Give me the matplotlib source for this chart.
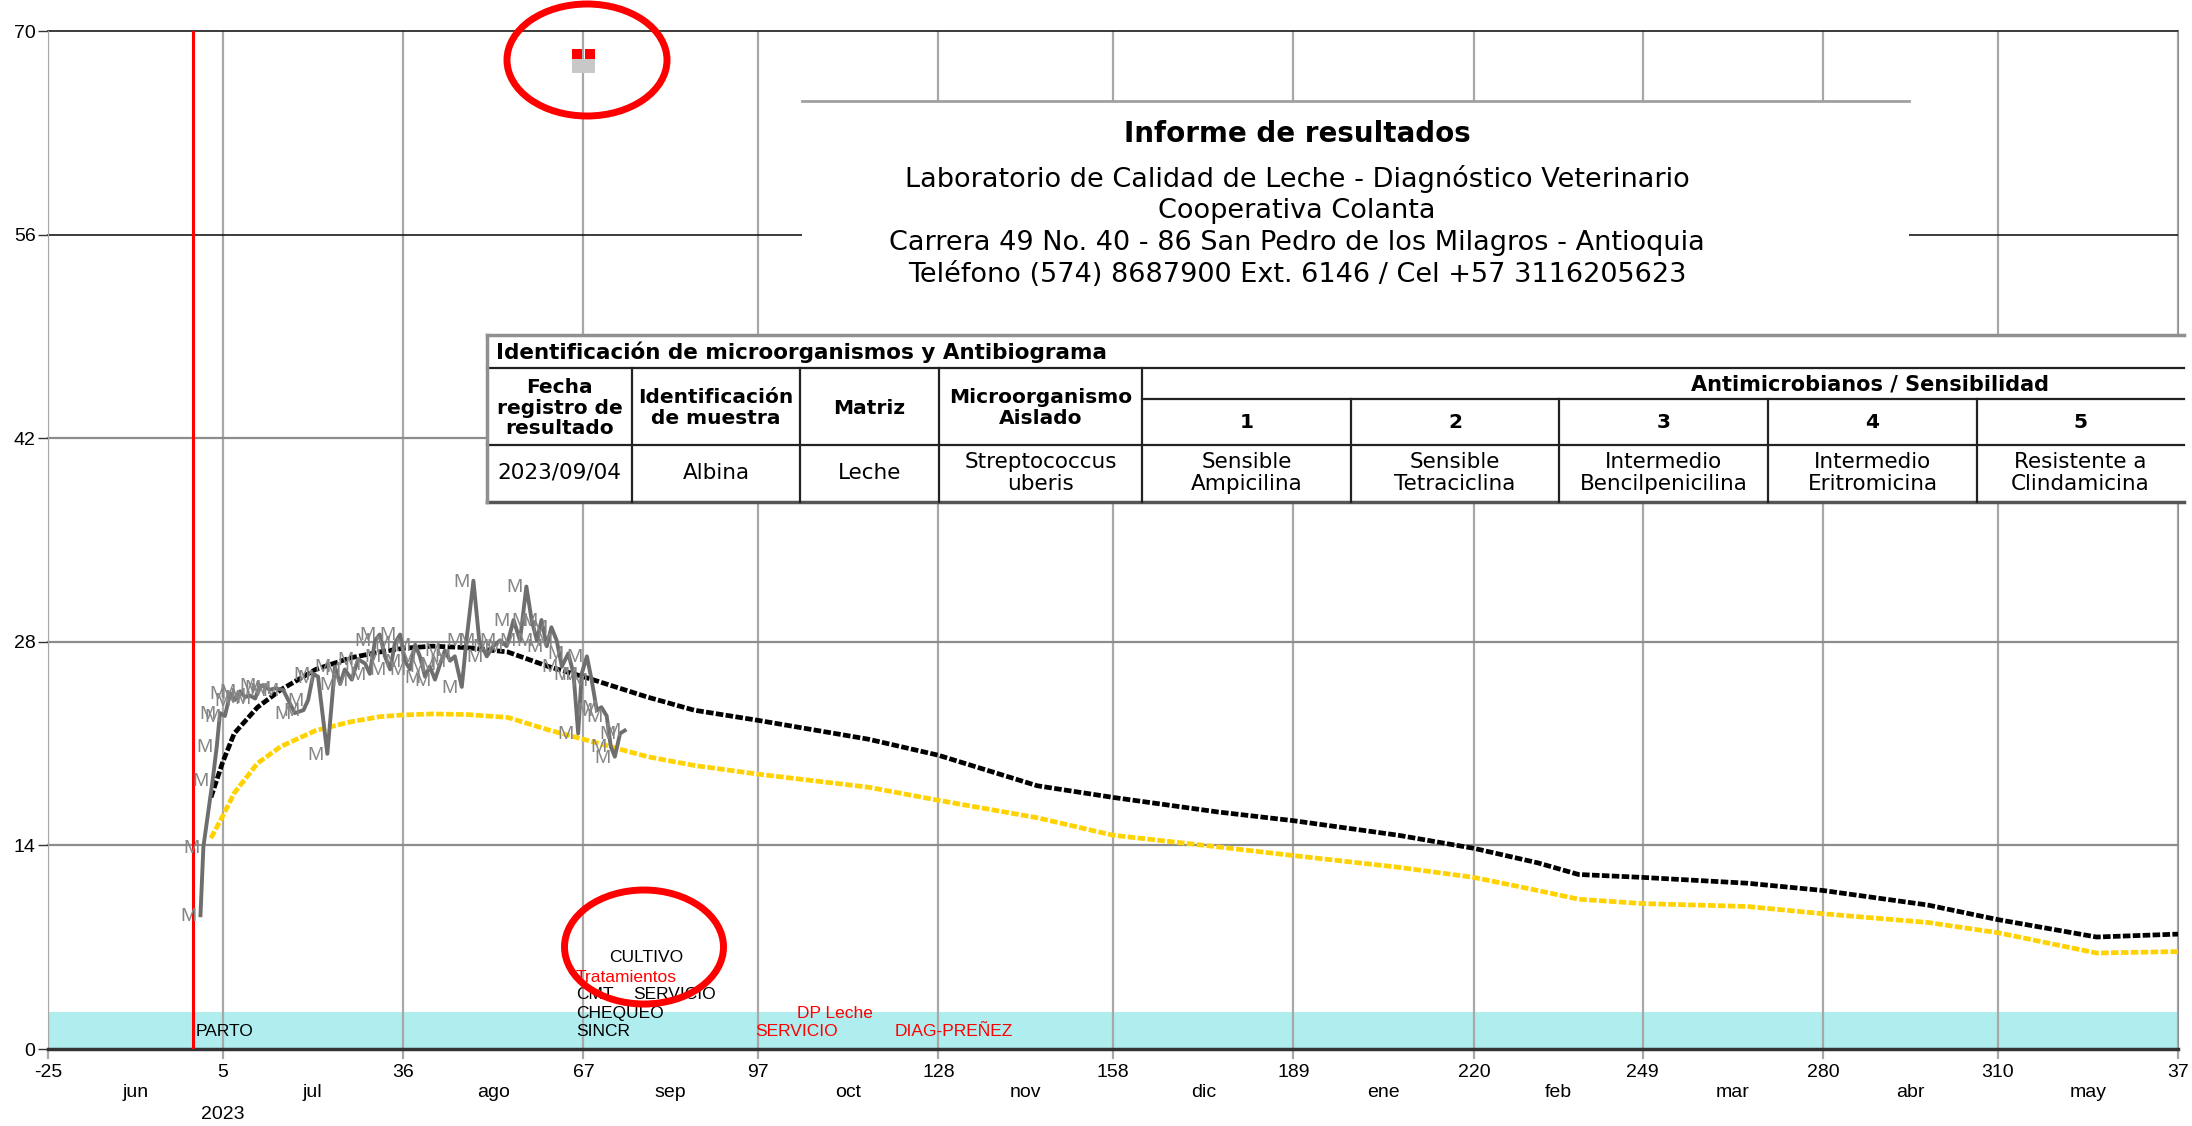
import matplotlib
matplotlib.use("Agg")
import matplotlib.pyplot as plt
from matplotlib.patches import Ellipse, Rectangle
from matplotlib.lines import Line2D

plt.rcParams["font.family"] = ["Liberation Sans", "DejaVu Sans"]

W, H = 2192, 1126
TFAM = "DejaVu Sans"

# ---- data -----------------------------------------------------------------
# days after calving (parto = 0); month boundaries on the x axis
x_ticks = [-25, 5, 36, 67, 97, 128, 158, 189, 220, 249, 280, 310, 341]
x_tick_labels = ["-25", "5", "36", "67", "97", "128", "158", "189", "220",
                 "249", "280", "310", "37"]
months = ["jun", "jul", "ago", "sep", "oct", "nov", "dic", "ene", "feb",
          "mar", "abr", "may"]
y_ticks = [0, 14, 28, 42, 56, 70]

# recorded daily milk (litres)
milk_days = [1.2, 1.7, 3.3, 4.0, 4.55, 5.4, 6.3, 7.1, 8.0, 8.85, 9.7, 10.6,
             11.4, 12.3, 13.1, 14.0, 15.4, 17.4, 18.9, 19.7, 20.6, 21.4,
             23.0, 24.3, 25.2, 26.0, 27.2, 28.3, 29.5, 30.3, 31.2, 32.0,
             32.9, 33.8, 34.6, 35.5, 36.3, 37.2, 38.1, 38.9, 39.8, 40.6,
             41.5, 42.4, 43.2, 44.1, 44.9, 46.1, 46.9, 48.1, 49.1, 50.4,
             51.5, 52.7, 53.8, 55.0, 56.1, 57.2, 58.1, 59.0, 59.8, 60.7,
             61.5, 62.4, 63.3, 64.4, 65.3, 66.1, 66.7, 67.6, 68.4, 69.3,
             70.1, 71.0, 71.7, 72.4, 73.3, 74.1]
milk_litres = [9.2, 13.9, 18.5, 20.8, 23.1, 22.9, 24.45, 24.0, 24.6, 24.2,
               24.3, 24.1, 25.0, 24.9, 24.7, 24.8, 24.7, 23.1, 23.3, 24.0,
               25.8, 25.6, 20.3, 26.3, 25.1, 26.1, 25.4, 26.8, 26.5, 25.8,
               28.1, 28.5, 27.0, 26.1, 27.9, 28.5, 26.7, 26.1, 27.8, 27.0,
               25.6, 26.3, 25.4, 26.5, 27.4, 26.7, 27.0, 24.9, 28.1, 32.2,
               28.1, 27.0, 27.7, 28.1, 27.7, 29.5, 28.1, 31.8, 29.5, 28.1,
               29.5, 27.7, 29.0, 28.1, 26.3, 27.2, 25.8, 21.7, 25.8, 27.0,
               25.4, 23.3, 23.5, 22.9, 20.8, 20.1, 21.7, 21.9]

# reference lactation curves
curve_days = [3, 5, 7, 11, 15, 21, 27, 32, 36, 41, 47, 54, 61, 67, 78, 86,
              97, 116, 128, 145, 158, 176, 189, 207, 220, 231, 238, 249,
              267, 280, 298, 310, 327, 341]
curve_black = [17.3, 19.7, 21.7, 23.5, 24.7, 26.1, 26.9, 27.3, 27.55, 27.7,
               27.6, 27.3, 26.3, 25.6, 24.2, 23.3, 22.6, 21.3, 20.2, 18.1,
               17.3, 16.3, 15.7, 14.7, 13.8, 12.8, 12.0, 11.8, 11.4, 10.9,
               9.9, 8.9, 7.7, 7.9]
curve_yellow = [14.5, 16.0, 17.6, 19.65, 20.8, 21.9, 22.5, 22.85, 22.97,
                23.04, 23.0, 22.8, 21.94, 21.3, 20.1, 19.5, 18.9, 18.0, 17.1,
                15.9, 14.7, 13.9, 13.3, 12.5, 11.8, 10.9, 10.3, 10.0, 9.8,
                9.3, 8.7, 8.0, 6.6, 6.7]

# events
event_names = ["PARTO", "SINCR", "CHEQUEO", "CMT", "SERVICIO", "Tratamientos",
               "CULTIVO", "SERVICIO", "DP Leche", "DIAG-PREÑEZ"]
event_days = [0.4, 65.7, 65.7, 65.7, 75.6, 65.7, 71.5, 96.5, 103.7, 120.5]
event_colors = ["black", "black", "black", "black", "black", "red", "black",
                "red", "red", "red"]
event_rows = [1.19, 1.19, 2.45, 3.78, 3.78, 4.93, 6.28, 1.19, 2.45, 1.19]

flag_days = [65.9, 68.1]
flag_level = 68.4

# lab report
report_lines = ["Laboratorio de Calidad de Leche - Diagnóstico Veterinario",
                "Cooperativa Colanta",
                "Carrera 49 No. 40 - 86 San Pedro de los Milagros - Antioquia",
                "Teléfono (574) 8687900 Ext. 6146 / Cel +57 3116205623"]
sample_headers = ["Fecha\nregistro de\nresultado", "Identificación\nde muestra",
                  "Matriz", "Microorganismo\nAislado"]
sample_values = ["2023/09/04", "Albina", "Leche", "Streptococcus\nuberis"]
ab_numbers = ["1", "2", "3", "4", "5"]
ab_results = ["Sensible\nAmpicilina", "Sensible\nTetraciclina",
              "Intermedio\nBencilpenicilina", "Intermedio\nEritromicina",
              "Resistente a\nClindamicina"]


def fx(px):
    return px / W


def fy(py):
    return 1 - py / H


fig = plt.figure(figsize=(W / 100, H / 100), dpi=100)
ax = fig.add_axes([fx(48), fy(1049), (2178 - 48) / W, (1049 - 31) / H])
ax.set_xlim(-25, 341)
ax.set_ylim(0, 70)

# background band and grid
ax.axhspan(0, 2.56, color="#AFEDEE", lw=0, zorder=0.5)
for t in x_ticks:
    ax.axvline(t, color="#a8a8a8", lw=1.6, zorder=1)
for v in y_ticks[1:]:
    dark = v >= 56
    ax.axhline(v, color="#1a1a1a" if dark else "#8c8c8c",
               lw=1.2 if dark else 1.6, zorder=1, clip_on=False)

ax.spines["top"].set_visible(False)
ax.spines["left"].set_color("#a8a8a8")
ax.spines["right"].set_color("#909090")
ax.spines["bottom"].set_color("#333333")
ax.spines["bottom"].set_linewidth(2.5)

ax.set_xticks(x_ticks)
ax.set_xticklabels(x_tick_labels)
mids = [(a + b) / 2 for a, b in zip(x_ticks[:-1], x_ticks[1:])]
ax.set_xticks(mids, minor=True)
ax.set_xticklabels(months, minor=True)
ax.set_yticks(y_ticks)
ax.tick_params(axis="x", which="major", length=7, width=1.6,
               color="#a8a8a8", pad=4, labelsize=14)
ax.tick_params(axis="x", which="minor", length=0, pad=25, labelsize=14)
ax.tick_params(axis="y", length=7, width=1, color="#333333", pad=2,
               labelsize=14)
ax.text(5, -0.064, "2023", transform=ax.get_xaxis_transform(),
        ha="center", va="center", fontsize=14)

# calving line
ax.axvline(0, color="red", lw=2.2, zorder=3)

# curves
ax.plot(curve_days, curve_yellow, color="#FFD200", lw=3.4,
        ls=(0, (1.6, 0.5)), zorder=3)
ax.plot(curve_days, curve_black, color="black", lw=3.4,
        ls=(0, (1.6, 0.5)), zorder=3)
ax.plot(milk_days, milk_litres, color="#6e6e6e", lw=2.8, zorder=4)
for d, v in zip(milk_days, milk_litres):
    ax.annotate("M", (d, v), xytext=(-3, -1), textcoords="offset points",
                ha="right", va="center", fontsize=14, color="#858585",
                zorder=4)

# event labels
for name, d, r, c in zip(event_names, event_days, event_rows, event_colors):
    ax.text(d, r, name, color=c, fontsize=12.5, ha="left", va="center",
            zorder=5)

# flags at the top
ax.add_patch(Rectangle((65.0, 67.1), 3.95, 0.96, fc="#c8c8c8", ec="none",
                       zorder=5, clip_on=False))
ax.scatter(flag_days, [flag_level] * len(flag_days), marker="s", s=44,
           color="red", lw=0, zorder=6, clip_on=False)


# ---- report header and table (figure pixel coords) ------------------------
def hline(y, x0, x1, color="#222222", lw=1.6):
    fig.add_artist(Line2D([fx(x0), fx(x1)], [fy(y), fy(y)], color=color,
                          lw=lw, transform=fig.transFigure, zorder=12))


def vline(x, y0, y1, color="#222222", lw=1.6):
    fig.add_artist(Line2D([fx(x), fx(x)], [fy(y0), fy(y1)], color=color,
                          lw=lw, transform=fig.transFigure, zorder=12))


fig.add_artist(Rectangle((fx(802), fy(335)), (1909 - 802) / W,
                         (335 - 101) / H, transform=fig.transFigure,
                         fc="white", ec="none", zorder=10))
hline(101, 802, 1909, color="#a0a0a0", lw=2)
fig.text(fx(1297), fy(134), "Informe de resultados", family=TFAM,
         fontsize=20, fontweight="bold", ha="center", va="center", zorder=13)
for yy, line in zip([179, 211, 243, 275], report_lines):
    fig.text(fx(1297), fy(yy), line, family=TFAM, fontsize=19.5,
             ha="center", va="center", zorder=13)

TL, TR = 487, 2184
y_top, y_title, y_sub, y_hdr, y_bot = 335, 368, 399, 445, 502
cols_main = [487, 632, 800, 939, 1142]
cols_ab = [1142, 1351, 1559, 1768, 1977, 2184]

fig.add_artist(Rectangle((fx(TL), fy(y_bot)), (TR - TL) / W,
                         (y_bot - y_top) / H, transform=fig.transFigure,
                         fc="white", ec="none", zorder=11))
hline(y_top, TL, TR, color="#909090", lw=2.5)
hline(y_title, TL, TR)
hline(y_sub, cols_ab[0], TR)
hline(y_hdr, TL, TR)
hline(y_bot, TL, TR, color="#555555", lw=2.5)
vline(TL, y_top, y_bot, color="#909090", lw=2.5)
for x in cols_main[1:]:
    vline(x, y_title, y_bot)
for x in cols_ab[1:-1]:
    vline(x, y_sub, y_bot)

fig.text(fx(496), fy(352), "Identificación de microorganismos y Antibiograma",
         family=TFAM, fontsize=15.5, fontweight="bold", ha="left",
         va="center", zorder=13)
for (a, b), h, v in zip(zip(cols_main[:-1], cols_main[1:]), sample_headers,
                        sample_values):
    fig.text(fx((a + b) / 2), fy(408), h, family=TFAM, fontsize=14.5,
             fontweight="bold", ha="center", va="center", linespacing=1.1,
             zorder=13)
    fig.text(fx((a + b) / 2), fy(473), v, family=TFAM, fontsize=15.5,
             ha="center", va="center", linespacing=1.15, zorder=13)
fig.text(fx(1870), fy(384), "Antimicrobianos / Sensibilidad", family=TFAM,
         fontsize=15, fontweight="bold", ha="center", va="center", zorder=13)
for (a, b), n, r in zip(zip(cols_ab[:-1], cols_ab[1:]), ab_numbers,
                        ab_results):
    fig.text(fx((a + b) / 2), fy(423), n, family=TFAM, fontsize=14.5,
             fontweight="bold", ha="center", va="center", zorder=13)
    fig.text(fx((a + b) / 2), fy(473), r, family=TFAM, fontsize=15.5,
             ha="center", va="center", linespacing=1.15, zorder=13)

# red highlight ellipses
for cx, cy, ew, eh in [(587, 60, 160, 112), (644, 947, 159, 114)]:
    fig.add_artist(Ellipse((fx(cx), fy(cy)), ew / W, eh / H,
                           transform=fig.transFigure, fill=False,
                           ec="red", lw=5, zorder=20))

fig.savefig("out.png", dpi=100)
